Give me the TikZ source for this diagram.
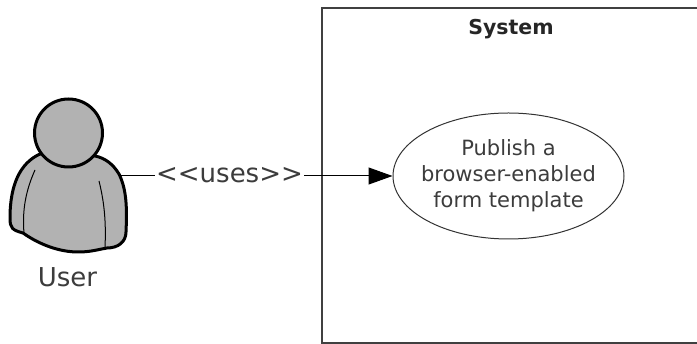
\documentclass[tikz,border=0pt]{standalone}
\usepackage{fontspec}
\setmainfont{DejaVu Sans}
\usetikzlibrary{shapes.geometric}
\usetikzlibrary{arrows.meta}
\definecolor{actorgray}{RGB}{178,178,178}
\definecolor{textgray}{RGB}{60,60,60}
\begin{document}
\begin{tikzpicture}[x=1pt,y=-1pt,
    usecase/.style={draw=black!80,ellipse,inner sep=-15pt,minimum width=231pt,minimum height=126pt,line width=1pt},
    label/.style={text=textgray,align=center},
    actorline/.style={draw=black,line width=3pt,line join=round}]
    \useasboundingbox (0,0) rectangle (697,344);
    \node[draw=black!75,line width=1.6pt,minimum width=380pt,minimum height=335pt,inner sep=0] (system) at (512,175.5) {};
    \node[font=\bfseries\fontsize{20.5}{24}\selectfont,text=black!85] (systemlabel) at (511,29) {System};
    \node[usecase,label,font=\fontsize{21}{26}\selectfont] (publish) at (508.5,176) {Publish a\\browser-enabled\\form template};
    % actor
    \filldraw[actorline,fill=actorgray] (40,154) .. controls (20,163) and (10,185) .. (10,218)
      .. controls (10,228) and (12,230) .. (23,233)
      .. controls (40,245) and (60,252) .. (78,252)
      .. controls (90,252) and (96,250) .. (107,248)
      .. controls (118,248) and (126,242) .. (126,232)
      .. controls (127,210) and (127,190) .. (119,174)
      .. controls (113,164) and (105,158) .. (95,156) -- cycle;
    \draw[line width=1pt] (35,170) .. controls (26,190) and (22,210) .. (24,233);
    \draw[line width=1pt] (99,181) .. controls (105,205) and (106,225) .. (105,248);
    \node[circle,draw=black,line width=3pt,fill=actorgray,minimum size=68pt,inner sep=0] (head) at (68.5,133) {};
    \node[label,font=\fontsize{26}{30}\selectfont] (user) at (67.5,277) {User};
    \coordinate (side) at (118,176);
    \draw[-{Triangle[length=24pt,width=17pt]},line width=1pt] (side) -- (publish);
    \node[label,fill=white,inner sep=1pt,font=\fontsize{26}{30}\selectfont] (uses) at (229.5,175) {<{}<uses>{}>};
\end{tikzpicture}
\end{document}
